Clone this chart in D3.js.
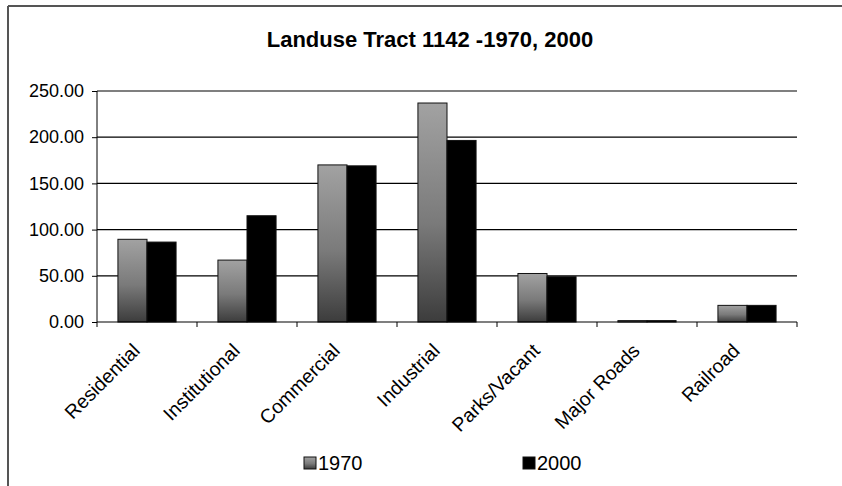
<!DOCTYPE html>
<html><head><meta charset="utf-8">
<script src="https://cdn.jsdelivr.net/npm/d3@7"></script>
<style>body{margin:0;background:#fff}svg{display:block}text{font-family:"Liberation Sans",Arial,sans-serif}</style>
</head><body><svg id="c" width="842" height="486"></svg>
<script>
const categories = ["Residential","Institutional","Commercial","Industrial","Parks/Vacant","Major Roads","Railroad"];
const series = ["1970","2000"];
const values1970 = [89.5, 67, 170, 237, 52.5, 1.5, 18];
const values2000 = [86.5, 115, 169, 196.5, 49, 1.5, 18];
const yTicks = [0,50,100,150,200,250];
const title = "Landuse Tract 1142 -1970, 2000";

const svg = d3.select("#c");
const defs = svg.append("defs");
const g1 = defs.append("linearGradient").attr("id","g1970").attr("x1",0).attr("y1",0).attr("x2",0).attr("y2",1);
g1.append("stop").attr("offset","0%").attr("stop-color","#a2a2a2");
g1.append("stop").attr("offset","55%").attr("stop-color","#7a7a7a");
g1.append("stop").attr("offset","100%").attr("stop-color","#3c3c3c");

// outer frame (top and left edges visible)
svg.append("line").attr("x1",8).attr("x2",842).attr("y1",6).attr("y2",6).attr("stroke","#555").attr("stroke-width",2);
svg.append("line").attr("x1",8).attr("x2",8).attr("y1",6).attr("y2",486).attr("stroke","#555").attr("stroke-width",2);

svg.append("text").attr("x",430).attr("y",47).attr("text-anchor","middle")
  .attr("font-weight","bold").attr("font-size",22).attr("fill","#000").text(title);

const x = d3.scaleBand().domain(categories).range([97,797]);
const y = d3.scaleLinear().domain([0,250]).range([322,91]);

// gridlines
svg.append("g").selectAll("line").data(yTicks.filter(d=>d>0)).join("line")
  .attr("x1",97).attr("x2",797).attr("y1",d=>y(d)).attr("y2",d=>y(d))
  .attr("stroke","#000").attr("stroke-width",1.2);

// y axis
const yAxis = svg.append("g").attr("transform","translate(97,0)")
  .call(d3.axisLeft(y).tickValues(yTicks).tickSize(5).tickPadding(8).tickFormat(d3.format(".2f")));
yAxis.select(".domain").attr("stroke","#000").attr("d","M0,"+y(0)+"V"+y(250));
yAxis.selectAll("text").attr("font-size",18).attr("fill","#000").style("font-family","'Liberation Sans',Arial,sans-serif");

// bars
const sub = d3.scaleBand().domain(series).range([0,x.bandwidth()]).paddingInner(0).paddingOuter(0.72);
const data = categories.map((c,i)=>({c, v:[values1970[i], values2000[i]]}));
const grp = svg.append("g").selectAll("g").data(data).join("g").attr("transform",d=>`translate(${x(d.c)},0)`);
grp.selectAll("rect").data(d=>series.map((s,j)=>({s,v:d.v[j]}))).join("rect")
  .attr("x",d=>sub(d.s)).attr("width",sub.bandwidth())
  .attr("y",d=>y(d.v)).attr("height",d=>y(0)-y(d.v))
  .attr("fill",d=>d.s==="1970"?"url(#g1970)":"#000")
  .attr("stroke","#111").attr("stroke-width",1);

// x axis
const xAxis = svg.append("g").attr("transform","translate(0,322)");
xAxis.append("line").attr("x1",97).attr("x2",797).attr("y1",0).attr("y2",0).attr("stroke","#000").attr("stroke-width",1.2);
const bounds = categories.map(c=>x(c)).concat([x.range()[1]]);
xAxis.selectAll("line.t").data(bounds).join("line").attr("class","t")
  .attr("x1",d=>d).attr("x2",d=>d).attr("y1",0).attr("y2",5).attr("stroke","#000");
xAxis.selectAll("text").data(categories).join("text")
  .attr("transform",d=>`translate(${x(d)+x.bandwidth()/2-6},30) rotate(-45)`)
  .attr("text-anchor","end").attr("font-size",19.5).attr("fill","#000").text(d=>d);

// legend
const legend = [{s:"1970",x:304},{s:"2000",x:523}];
const lg = svg.append("g").selectAll("g").data(legend).join("g").attr("transform",d=>`translate(${d.x},457)`);
lg.append("rect").attr("width",12).attr("height",12)
  .attr("fill",d=>d.s==="1970"?"url(#g1970)":"#000").attr("stroke","#111");
lg.append("text").attr("x",14).attr("y",13).attr("font-size",20).attr("fill","#000").text(d=>d.s);
</script></body></html>
